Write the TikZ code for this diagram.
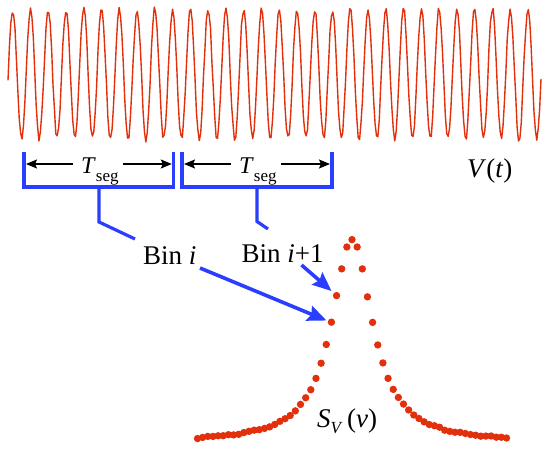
\documentclass[tikz,border=0pt]{standalone}
\usepackage{fontspec}
\setmainfont{Liberation Serif}
\usetikzlibrary{arrows.meta}
\definecolor{wred}{RGB}{226,48,12}
\definecolor{bblue}{RGB}{42,62,255}
\tikzset{
  wave/.style={draw=wred, line width=1.4pt, line join=round},
  bracketline/.style={draw=bblue, line width=3.4pt, line cap=butt, line join=miter},
  stemline/.style={draw=bblue, line width=3.2pt},
  binarrow/.style={draw=bblue, line width=3.6pt, -{Stealth[length=19pt,width=16pt,inset=3pt]}},
  segarrow/.style={draw=black, line width=1.5pt, -{Stealth[length=11pt,width=9pt,inset=2pt]}},
  lbl/.style={inner sep=0pt, anchor=base west, font=\fontsize{27}{32}\selectfont},
  dotc/.style={fill=wred},
}
\begin{document}
\begin{tikzpicture}[x=1pt,y=-1pt]
\useasboundingbox (0,0) rectangle (548,457);
% waveform
\pgfmathsetseed{7}
\draw[wave] plot[domain=8:541, samples=380] (\x, {74 - 65*sin(20.2627*(\x-8) - 5) + 3.2*rand});
% brackets
\draw[bracketline] (24,152) -- (24,187) -- (173.7,187) -- (173.7,152);
\draw[bracketline] (182,152) -- (182,187) -- (332,187) -- (332,152);
% T_seg labels
\node[inner sep=0pt, anchor=base west, font=\fontsize{24}{28}\selectfont] (t1) at (81,173) {\textit{T}\raisebox{-8pt}{\fontsize{17}{18}\selectfont seg}};
\node[inner sep=0pt, anchor=base west, font=\fontsize{24}{28}\selectfont] (t2) at (239,173) {\textit{T}\raisebox{-8pt}{\fontsize{17}{18}\selectfont seg}};
\coordinate (b1l) at (26,164);
\coordinate (b1r) at (171.8,164);
\coordinate (b2l) at (184,164);
\coordinate (b2r) at (330,164);
\coordinate (t1l) at (73,164);
\coordinate (t1r) at (123,164);
\coordinate (t2l) at (231,164);
\coordinate (t2r) at (281,164);
\draw[segarrow] (t1l) -- (b1l);
\draw[segarrow] (t1r) -- (b1r);
\draw[segarrow] (t2l) -- (b2l);
\draw[segarrow] (t2r) -- (b2r);
% stems
\coordinate (s1a) at (99,187);
\coordinate (s1b) at (99,222);
\coordinate (s1c) at (135,239);
\coordinate (s2a) at (257,187);
\coordinate (s2b) at (257,221.5);
\coordinate (s2c) at (268,229);
\draw[stemline] (s1a) -- (s1b) -- (s1c);
\draw[stemline] (s2a) -- (s2b) -- (s2c);
% labels
\node[lbl] (bini) at (143,264) {Bin \textit{i}};
\node[lbl] (binj) at (241.5,262) {Bin \textit{i}+1};
\node[lbl] (vt) at (467,178) {\textit{V}(\textit{t})};
\node[lbl] (sv) at (317,427) {\textit{S}\raisebox{-6pt}{\fontsize{17}{18}\selectfont\textit{V}}\,(\textit{ν})};
% spectrum dots
\foreach \k in {-30,...,30} {
  \pgfmathsetmacro{\dx}{5.15*\k}
  \pgfmathsetmacro{\yy}{443 - 204/(1+(\dx/24.7)^2) + 0.8*rand}
  \fill[dotc] (352+\dx,\yy) circle (3.7pt);
}
\coordinate (p1) at (326.5,320.5);
\coordinate (p2) at (331.5,291);
\coordinate (a1) at (200,268);
\coordinate (a2) at (301.5,265);
\draw[binarrow] (a1) -- (p1);
\draw[binarrow] (a2) -- (p2);
\end{tikzpicture}
\end{document}
